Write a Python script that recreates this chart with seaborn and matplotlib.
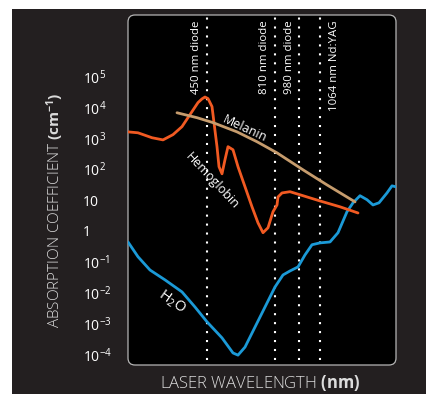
import numpy as np
import pandas as pd
import matplotlib
matplotlib.use("Agg")
import matplotlib.pyplot as plt
import matplotlib.transforms as mtransforms
from matplotlib.patches import FancyBboxPatch, Rectangle
import seaborn as sns

# ---------------- data (schematic x position, absorption coefficient cm^-1) ----------------
hemo_pos = [0, 10, 24, 35, 45, 54, 62, 70, 74, 77, 80, 84, 86, 89, 91, 94, 97, 100, 105, 110,
            117, 124, 130, 135, 140, 145, 149, 150, 154, 162, 192, 212, 230]
hemo_log = [3.21, 3.18, 3.02, 2.95, 3.12, 3.38, 3.77, 4.16, 4.28, 4.34, 4.29, 4.03, 3.51, 2.73, 2.08,
            1.85, 2.31, 2.73, 2.63, 2.08, 1.43, 0.78, 0.26, -0.06, 0.10, 0.62, 0.84, 1.10, 1.23,
            1.27, 0.97, 0.78, 0.58]

mel_pos = [49, 69, 85, 109, 129, 149, 175, 199, 227]
mel_log = [3.83, 3.67, 3.51, 3.21, 2.89, 2.53, 1.98, 1.49, 0.94]

water_pos = [0, 10, 22, 37, 54, 67, 79, 94, 105, 110, 117, 127, 137, 147, 155, 162, 170, 177,
             184, 192, 202, 210, 219, 225, 232, 239, 245, 251, 259, 264, 269]
water_log = [-0.36, -0.84, -1.27, -1.59, -1.98, -2.47, -2.95, -3.47, -3.96, -4.03, -3.77, -3.12,
             -2.47, -1.82, -1.43, -1.30, -1.17, -0.78, -0.45, -0.39, -0.36, -0.06, 0.62, 0.91,
             1.14, 1.01, 0.84, 0.91, 1.23, 1.46, 1.42]

laser_pos = [79, 147, 171, 192]
laser_labels = ["450 nm diode", "810 nm diode", "980 nm diode", "1064 nm Nd:YAG"]
laser_label_pos = [69, 137, 162, 207]

ytick_exp = [-4, -3, -2, -1, 0, 1, 2, 3, 4, 5]
ytick_labels = [r"$\mathregular{10^{-4}}$", r"$\mathregular{10^{-3}}$", r"$\mathregular{10^{-2}}$",
                r"$\mathregular{10^{-1}}$", "1", "10", r"$\mathregular{10^{2}}$",
                r"$\mathregular{10^{3}}$", r"$\mathregular{10^{4}}$", r"$\mathregular{10^{5}}$"]

# ---------------- style ----------------
sns.set_style("white")
plt.rcParams["font.family"] = ["Open Sans", "DejaVu Sans"]
plt.rcParams["mathtext.fontset"] = "custom"
plt.rcParams["mathtext.rm"] = "Open Sans"
plt.rcParams["mathtext.it"] = "Open Sans:italic"
plt.rcParams["mathtext.bf"] = "Open Sans:bold"

W, H = 427, 394
fig = plt.figure(figsize=(W / 100, H / 100), dpi=100, facecolor="white")

bg = Rectangle((12 / W, 0), 1 - 12 / W, 1 - 9 / H, transform=fig.transFigure,
               facecolor="#231f20", edgecolor="none", zorder=-3)
fig.patches.append(bg)
box = FancyBboxPatch((1.28, 0.29), 2.68, 3.50, boxstyle="round,pad=0,rounding_size=0.07",
                     transform=fig.dpi_scale_trans, facecolor="black", edgecolor="#b5b5b5",
                     linewidth=0.9, zorder=-2)
fig.patches.append(box)

ax = fig.add_axes([128 / W, 29 / H, 268 / W, 350 / H])
ax.set_facecolor("none")
ax.set_yscale("log")

df_h = pd.DataFrame({"pos": hemo_pos, "coef": np.power(10.0, hemo_log)})
df_m = pd.DataFrame({"pos": mel_pos, "coef": np.power(10.0, mel_log)})
df_w = pd.DataFrame({"pos": water_pos, "coef": np.power(10.0, water_log)})

sns.lineplot(data=df_w, x="pos", y="coef", color="#1b9ad7", lw=2.0, ax=ax, estimator=None, sort=False)
sns.lineplot(data=df_h, x="pos", y="coef", color="#f15a22", lw=2.0, ax=ax, estimator=None, sort=False)
sns.lineplot(data=df_m, x="pos", y="coef", color="#c69c6d", lw=2.0, ax=ax, estimator=None, sort=False)

ax.set_xlim(0, 268)
ax.set_ylim(10 ** -4.35, 10 ** 7.0)

for x in laser_pos:
    ax.axvline(x, ymin=0.015, ymax=0.995, color="white", lw=1.5, ls=(0, (1, 3.3)), zorder=1)

trans = mtransforms.blended_transform_factory(ax.transData, ax.transAxes)
for x, lab in zip(laser_label_pos, laser_labels):
    ax.text(x, 0.984, lab, transform=trans, rotation=90, ha="center", va="top",
            color="white", fontsize=8.2)

ax.text(117, 10 ** 3.32, "Melanin", rotation=-25, ha="center", va="center", color="white", fontsize=9)
ax.text(84, 10 ** 1.62, "Hemoglobin", rotation=-47, ha="center", va="center", color="white", fontsize=9)
ax.text(44, 10 ** -2.31, r"$\mathregular{H_2O}$", rotation=-35, ha="center", va="center",
        color="white", fontsize=10.5)

ax.yaxis.set_minor_locator(matplotlib.ticker.NullLocator())
ax.set_yticks([10.0 ** e for e in ytick_exp])
ax.set_yticklabels(ytick_labels, ha="left")
ax.tick_params(axis="y", length=0, pad=32.4, labelcolor="white", labelsize=10)
ax.set_xticks([])
ax.set_xlabel("")
ax.set_ylabel("")
for s in ax.spines.values():
    s.set_visible(False)

fig.text(55 / W, 1 - 210 / H, r"ABSORPTION COEFFICIENT $\mathbf{(cm^{-1})}$", rotation=90,
         ha="center", va="center", color="#dcdcdc", fontsize=11, fontweight="light")
fig.text(260 / W, 1 - 383 / H, r"LASER WAVELENGTH $\mathbf{(nm)}$", ha="center", va="center",
         color="#dcdcdc", fontsize=12, fontweight="light")

fig.savefig("out.png", dpi=100, facecolor="white")
